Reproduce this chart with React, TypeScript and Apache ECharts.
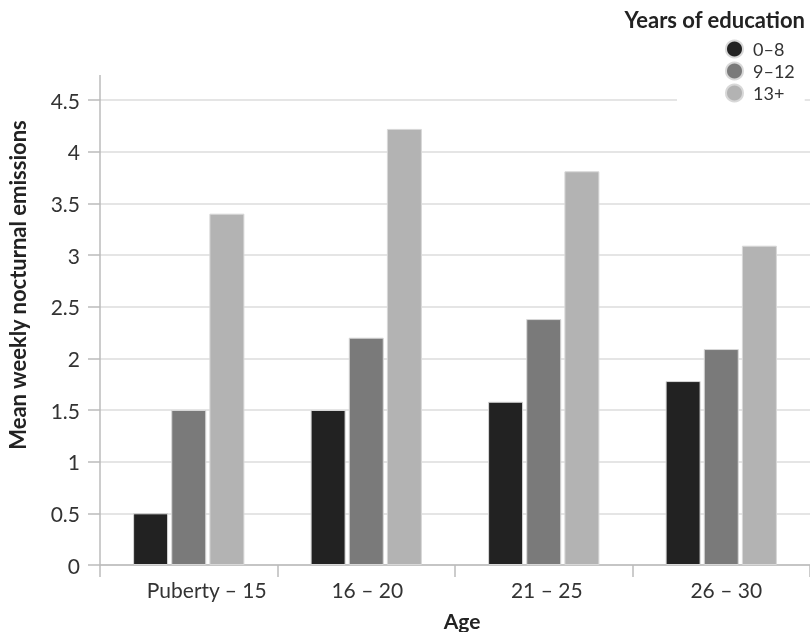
import React, { useEffect, useRef } from "react";
import * as echarts from "echarts";

const categories = ["Puberty – 15", "16 – 20", "21 – 25", "26 – 30"];
const seriesNames = ["0–8", "9–12", "13+"];
const edu0to8 = [0.5, 1.5, 1.58, 1.78];
const edu9to12 = [1.5, 2.2, 2.38, 2.09];
const edu13plus = [3.4, 4.22, 3.81, 3.09];
const colors = ["#222222", "#7a7a7a", "#b3b3b3"];
const yTicks = { min: 0, max: 4.5, interval: 0.5 };

const FONT = "Lato, 'Noto Sans', sans-serif";
const labelShift = [36, 2, 6, 10];

export default function App() {
  const ref = useRef<HTMLDivElement>(null);
  useEffect(() => {
    if (!ref.current) return;
    const chart = echarts.init(ref.current, null, { renderer: "svg" });
    const data = [edu0to8, edu9to12, edu13plus];
    chart.setOption({
      animation: false,
      textStyle: { fontFamily: FONT },
      grid: { left: 100, right: 0, top: 100, bottom: 67, containLabel: false },
      legend: {
        orient: "vertical",
        left: 677,
        top: 4,
        padding: [35, 10, 8, 48],
        backgroundColor: "#ffffff",
        icon: "circle",
        itemWidth: 17,
        itemHeight: 17,
        itemGap: 2,
        align: "left",
        textStyle: {
          fontFamily: FONT,
          fontSize: 18,
          lineHeight: 20,
          color: "#333",
          padding: [0, 0, 0, 5],
        },
        data: seriesNames,
      },
      xAxis: {
        type: "category",
        data: categories.map((c, i) => ({
          value: c,
          textStyle: { padding: [0, 0, 0, labelShift[i]] },
        })),
        axisLine: { show: true, lineStyle: { color: "#bbbbbb", width: 1.5 } },
        axisTick: { show: true, length: 12, lineStyle: { color: "#bbbbbb", width: 1.5 } },
        axisLabel: { fontFamily: FONT, fontSize: 21, color: "#333", margin: 14 },
      },
      yAxis: {
        type: "value",
        min: yTicks.min,
        max: yTicks.max,
        interval: yTicks.interval,
        axisLine: { show: true, lineStyle: { color: "#bbbbbb", width: 1.5 } },
        axisTick: { show: true, length: 12, lineStyle: { color: "#bbbbbb", width: 1.5 } },
        axisLabel: { fontFamily: FONT, fontSize: 21, color: "#333", margin: 20 },
        splitLine: { show: true, lineStyle: { color: "#dddddd", width: 1.5 } },
      },
      series: seriesNames.map((name, i) => ({
        name,
        type: "bar",
        data: data[i],
        barWidth: 35,
        barGap: "9%",
        itemStyle: { color: colors[i], borderColor: "#d8d8d8", borderWidth: 1 },
      })),
      graphic: [
        {
          type: "line",
          shape: { x1: 100, y1: 75, x2: 100, y2: 100 },
          style: { stroke: "#bbbbbb", lineWidth: 1.5 },
          z: 10,
        },
        {
          type: "text",
          x: 805,
          y: 19,
          z: 20,
          style: {
            text: "Years of education",
            fontFamily: FONT,
            fontSize: 22,
            fontWeight: "bold",
            fill: "#222",
            textAlign: "right",
            textVerticalAlign: "middle",
          },
        },
        {
          type: "text",
          x: 17,
          y: 285,
          rotation: Math.PI / 2,
          z: 20,
          style: {
            text: "Mean weekly nocturnal emissions",
            fontFamily: FONT,
            fontSize: 22,
            fontWeight: "bold",
            fill: "#222",
            textAlign: "center",
            textVerticalAlign: "middle",
          },
        },
        {
          type: "text",
          x: 462,
          y: 620,
          z: 20,
          style: {
            text: "Age",
            fontFamily: FONT,
            fontSize: 21,
            fontWeight: "bold",
            fill: "#222",
            textAlign: "center",
            textVerticalAlign: "middle",
          },
        },
      ],
    });
    return () => chart.dispose();
  }, []);
  return (
    <div
      ref={ref}
      style={{ position: "fixed", left: 0, top: 0, width: 810, height: 632 }}
    />
  );
}
